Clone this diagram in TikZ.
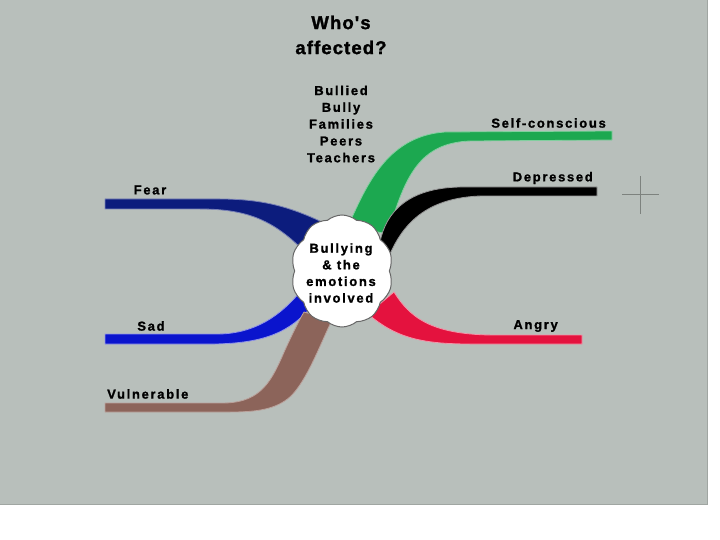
\documentclass[tikz,border=0pt]{standalone}
\usepackage{fontspec}
\setmainfont{Liberation Sans}
\newfontfamily\lblfont[LetterSpace=13,FakeBold=1.2]{Liberation Sans Bold}
\newfontfamily\ttlfont[LetterSpace=6,FakeBold=1.5]{Liberation Sans Bold}
\usetikzlibrary{shapes.symbols}
\definecolor{bggray}{RGB}{184,191,187}
\definecolor{edgegray}{RGB}{160,166,162}
\definecolor{fearblue}{RGB}{12,28,125}
\definecolor{sadblue}{RGB}{10,20,205}
\definecolor{vulnbrown}{RGB}{140,100,90}
\definecolor{selfgreen}{RGB}{28,168,80}
\definecolor{angryred}{RGB}{228,18,62}
\definecolor{crossgray}{RGB}{125,130,126}
\tikzset{
  lbl/.style={font=\lblfont\fontsize{13}{15}\selectfont, text=black, inner sep=0pt},
  ribbon/.style={line width=0.8pt, line join=round},
}
\begin{document}
\begin{tikzpicture}[x=1pt,y=-1pt]
\useasboundingbox (0,0) rectangle (720,540);
\fill[white] (0,0) rectangle (720,540);
\fill[bggray] (0,0) rectangle (708,505);
\draw[edgegray, line width=1.2pt] (0,504.5) -- (708,504.5);
\draw[edgegray, line width=1.2pt] (707.5,0) -- (707.5,505);

% crosshair
\draw[crossgray, line width=0.9pt] (622,194) -- (659,194);
\draw[crossgray, line width=0.9pt] (640,176) -- (640,214);

% ribbons
\filldraw[ribbon, fill=fearblue, draw=fearblue!55!white]
  (105,199) -- (220,199) .. controls (265,199) and (292,208) .. (322,222)
  -- (305,252) .. controls (275,222) and (250,209) .. (200,209) -- (105,209) -- cycle;
\filldraw[ribbon, fill=sadblue, draw=sadblue!45!white]
  (105,334) -- (220,334) .. controls (255,333) and (280,316) .. (300,292)
  -- (312,306) .. controls (290,332) and (265,343) .. (215,344) -- (105,344) -- cycle;
\filldraw[ribbon, fill=vulnbrown, draw=vulnbrown!60!white]
  (105,403) -- (225,403) .. controls (262,402) and (272,380) .. (285,350)
  .. controls (292,335) and (298,322) .. (304,312)
  -- (332,320) .. controls (320,345) and (307,380) .. (291,396)
  .. controls (276,410) and (255,412) .. (230,412) -- (105,412) -- cycle;
\filldraw[ribbon, fill=selfgreen, draw=selfgreen!55!white]
  (348,226) .. controls (365,190) and (385,136) .. (445,132) -- (612,131)
  -- (612,140) -- (470,141) .. controls (420,143) and (405,175) .. (388,234) -- cycle;
\filldraw[ribbon, fill=black, draw=black!40!white]
  (380,242) .. controls (386,212) and (408,188) .. (460,187) -- (597,187)
  -- (597,196) -- (480,196) .. controls (430,198) and (405,220) .. (390,254) -- cycle;
\filldraw[ribbon, fill=angryred, draw=angryred!45!white]
  (394,292) .. controls (410,318) and (432,334) .. (490,335) -- (582,335)
  -- (582,344) -- (470,344) .. controls (420,344) and (395,337) .. (368,314) -- cycle;

% central cloud
\node[cloud, cloud puffs=10, cloud puff arc=80, aspect=0.85, draw=black!60, line width=1pt,
      fill=white, minimum width=102pt, minimum height=112pt, inner sep=0pt] (core) at (342,271) {};
\node[lbl, align=center, font=\lblfont\fontsize{13}{16.6}\selectfont] (coretext) at (341,273)
  {Bullying\\\& the\\emotions\\involved};

% title and list
\node[align=center, inner sep=0pt, font=\ttlfont\fontsize{18.5}{25}\selectfont] (title) at (341,35) {Who's\\affected?};
\node[lbl, align=center, font=\lblfont\fontsize{13}{16.8}\selectfont] (who) at (341,124)
  {Bullied\\Bully\\Families\\Peers\\Teachers};

% branch labels
\node[lbl] (fear) at (150,190) {Fear};
\node[lbl] (sad) at (151,326) {Sad};
\node[lbl, anchor=west] (vuln) at (107,394) {Vulnerable};
\node[lbl, anchor=east] (selfc) at (606,123) {Self-conscious};
\node[lbl, anchor=east] (depr) at (593,178) {Depressed};
\node[lbl, anchor=east] (angry) at (558,326) {Angry};
\end{tikzpicture}
\end{document}
